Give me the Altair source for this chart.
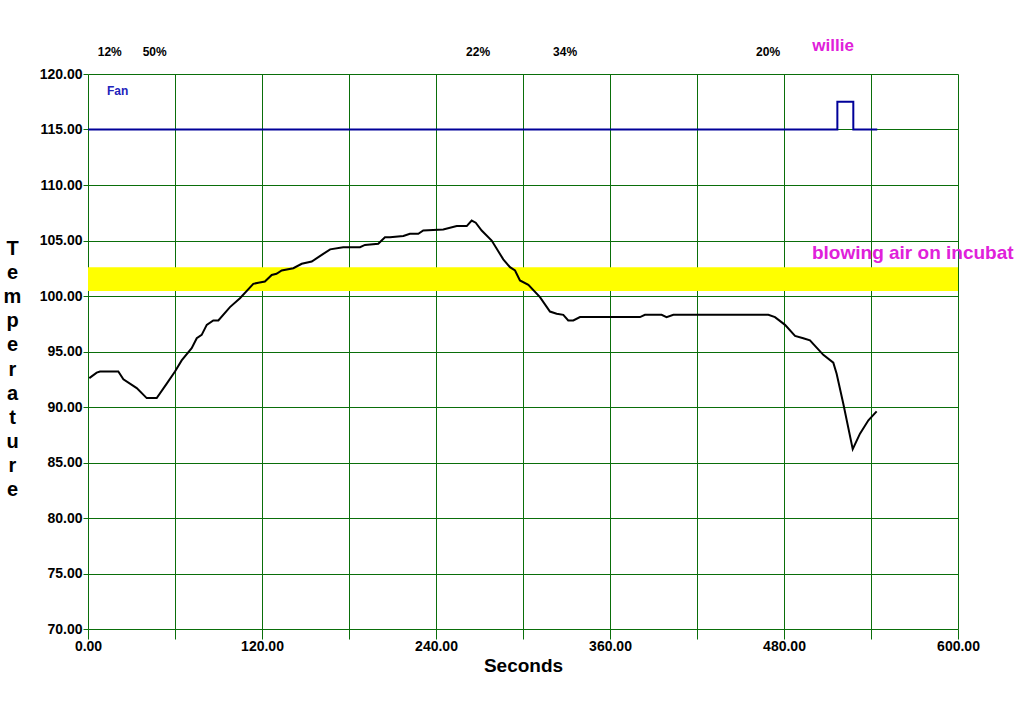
import altair as alt
import pandas as pd

# Temperature trace (seconds, degrees)
temp_t = [0.9, 6, 8.3, 20.9, 24.4, 33.6, 40.5, 47.4, 54.3, 60, 64.6, 71.5, 75, 78.4, 81.9, 86.4, 89.9,
          97.9, 104.8, 114, 117.5, 122, 126.7, 130, 133.6, 141.6, 147.4, 154.3, 161.2, 167, 176, 187.6,
          191, 200.2, 204.8, 208.3, 217.5, 222, 227.8, 231.2, 245, 254.3, 261.2, 264.6, 267.4, 271.5,
          278.4, 286.4, 291, 294.5, 297.9, 303.7, 311.7, 318.6, 323.2, 327.8, 331.2, 334.7, 339.3,
          350.8, 380.7, 384.1, 395.6, 399, 403.7, 469.2, 473.8, 480.7, 487.6, 493.3, 497.9, 501.4,
          507.1, 514, 516.3, 520.9, 527.4, 532.4, 538.2, 543.9]
temp_v = [92.6, 93.1, 93.2, 93.2, 92.5, 91.7, 90.8, 90.8, 92.1, 93.2, 94.2, 95.3, 96.2, 96.5, 97.4, 97.8,
          97.8, 99.0, 99.8, 101.1, 101.2, 101.3, 101.9, 102.0, 102.3, 102.5, 102.9, 103.1, 103.7, 104.2,
          104.4, 104.4, 104.6, 104.7, 105.3, 105.3, 105.4, 105.6, 105.6, 105.9, 106.0, 106.3, 106.3,
          106.8, 106.6, 105.9, 105.0, 103.3, 102.6, 102.3, 101.4, 101.0, 99.9, 98.6, 98.4, 98.3, 97.8,
          97.8, 98.1, 98.1, 98.1, 98.3, 98.3, 98.1, 98.3, 98.3, 98.1, 97.4, 96.4, 96.2, 96.0, 95.5,
          94.7, 94.0, 93.0, 90.3, 86.2, 87.6, 88.8, 89.6]

# Fan trace
fan_t = [0, 516.8, 516.8, 527.8, 527.8, 544.3]
fan_v = [115, 115, 117.5, 117.5, 115, 115]

# Highlight band
band_lo = [100.45]
band_hi = [102.6]

# Percent annotations at top
pct_labels = ["12%", "50%", "22%", "34%", "20%"]
pct_t = [15, 46, 269, 329, 469]
pct_y = [122.0]

# Other annotations
note_labels = ["Fan", "willie", "blowing air on incubat"]
note_t = [13.1, 499.5, 499.3]
note_v = [118.5, 122.5, 103.9]
note_colors = ["#2222BB", "#E020DA", "#E020DA"]
note_sizes = [12, 17, 19]

x_ticks = list(range(0, 601, 60))
y_ticks = list(range(70, 121, 5))

W, H = 870, 555
GRID = "#0A6E0A"

xs = alt.Scale(domain=[0, 600], nice=False, zero=False)
ys = alt.Scale(domain=[70, 120], nice=False, zero=False)

temp_df = pd.DataFrame({"t": temp_t, "v": temp_v, "o": range(len(temp_t))})
fan_df = pd.DataFrame({"t": fan_t, "v": fan_v, "o": range(len(fan_t))})
band_df = pd.DataFrame({"t": [0], "t2": [600], "v": band_lo, "v2": band_hi})
pct_df = pd.DataFrame({"t": pct_t, "v": pct_y * len(pct_t), "label": pct_labels})
notes_df = pd.DataFrame({"t": note_t, "v": note_v, "label": note_labels,
                         "c": note_colors, "s": note_sizes})

x_axis = alt.Axis(
    values=x_ticks, grid=True, gridColor=GRID, gridWidth=1, gridOpacity=1,
    domain=False, ticks=True, tickColor=GRID, tickSize=10, tickWidth=1,
    labelExpr="datum.value % 120 == 0 ? format(datum.value, '.2f') : ''",
    labelFont="Liberation Sans", labelFontWeight="bold", labelFontSize=14, labelColor="black",
    labelPadding=0, labelFlush=False, labelOverlap=False,
    title="Seconds", titleFont="Liberation Sans", titleFontWeight="bold", titleFontSize=19,
    titleColor="black", titlePadding=3,
)
y_axis = alt.Axis(
    values=y_ticks, grid=True, gridColor=GRID, gridWidth=1, gridOpacity=1,
    domain=False, ticks=True, tickColor=GRID, tickSize=5, tickWidth=1,
    format=".2f",
    labelFont="Liberation Sans", labelFontWeight="bold", labelFontSize=14, labelColor="black",
    labelPadding=1, labelFlush=False, labelOverlap=False,
    title=list("Temperature"), titleFont="Liberation Sans", titleFontWeight="bold", titleFontSize=20,
    titleColor="black", titleAngle=0, titleAlign="center", titleBaseline="top",
    titleLineHeight=24.2, titleX=-76, titleY=164,
)

X = alt.X("t:Q", scale=xs, axis=x_axis)
Y = alt.Y("v:Q", scale=ys, axis=y_axis)

band = alt.Chart(band_df).mark_rect(color="#FFFF00", opacity=1).encode(
    x=X, x2="t2:Q", y=Y, y2="v2:Q",
)

fan = alt.Chart(fan_df).mark_line(color="#000099", strokeWidth=2, interpolate="linear").encode(
    x=X, y=Y, order="o:Q"
)
temp = alt.Chart(temp_df).mark_line(color="black", strokeWidth=2, interpolate="linear").encode(
    x=X, y=Y, order="o:Q"
)

pct = alt.Chart(pct_df).mark_text(
    font="Liberation Sans", fontSize=12, fontWeight="bold", color="black", align="center", baseline="middle"
).encode(x=X, y=Y, text="label:N")

notes = alt.Chart(notes_df).mark_text(
    font="Liberation Sans", fontWeight="bold", align="left", baseline="middle"
).encode(
    x=X, y=Y, text="label:N",
    color=alt.Color("c:N", scale=None), size=alt.Size("s:Q", scale=None),
)

chart = alt.layer(band, fan, temp, pct, notes).properties(
    width=W, height=H,
    autosize=alt.AutoSizeParams(type="none"),
    padding={"left": 88, "top": 74, "right": 58, "bottom": 74},
    background="white",
).configure_view(stroke=None)

chart.save("out.html", embed_options={"renderer": "svg", "actions": False})
